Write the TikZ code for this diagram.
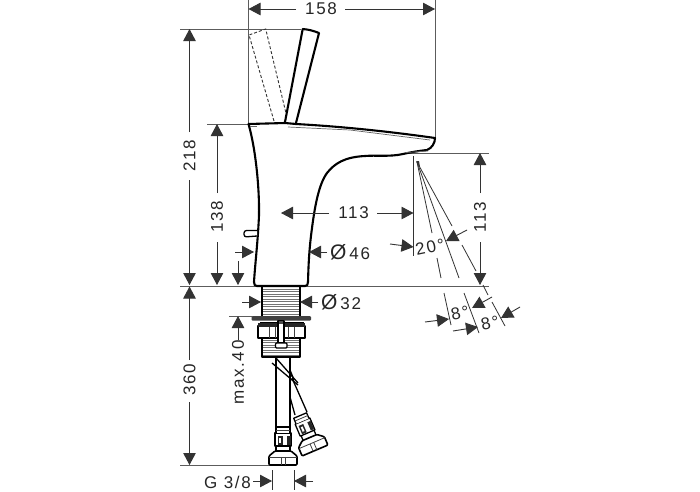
\documentclass[tikz,border=0pt]{standalone}
\usepackage{fontspec}
\setmainfont{Liberation Sans}
\newfontfamily\dimfont[LetterSpace=10]{Liberation Sans}
\usetikzlibrary{arrows.meta}
\definecolor{dimc}{HTML}{333333}
\tikzset{
  dimln/.style={draw=dimc,line width=0.9pt},
  arr/.style={dimln,-{Triangle[length=12pt,width=12.5pt]}},
  ext/.style={draw=dimc!80,line width=1pt},
  spray/.style={draw=dimc,line width=0.8pt},
  heavy/.style={draw=black,line width=2.1pt,line join=round,line cap=round},
  part/.style={draw=black,line width=1.3pt,line join=round},
  thin part/.style={draw=black!75,line width=0.8pt},
  lbl/.style={font=\dimfont\fontsize{17}{17}\selectfont,text=black!85,inner sep=0pt},
}
\newcommand{\connector}{%
  % origin: bottom centre of the nut
  \draw[part,line width=1.6pt,rounded corners=1pt,fill=white] (-14,0) -- (-14,-9) -- (-8,-14) -- (8,-14) -- (14,-9) -- (14,0) -- cycle;
  \draw[thin part] (-14,-8) -- (14,-8) (-2,-8) -- (-2,0) (2,-8) -- (2,0);
  \draw[part,fill=white] (-8,-19) rectangle (8,-32);
  \fill[black!85] (-5.5,-29) rectangle (-0.5,-20);
  \fill[black!85] (4,-29) rectangle (7.5,-20);
  \fill[white] (-4,-27) rectangle (-2,-22);
  \draw[part] (-7,-19) -- (-7,-14) (7,-19) -- (7,-14);
  \draw[part,fill=white] (-7,-32) -- (-7,-38) -- (7,-38) -- (7,-32);
  \draw[thin part] (-7,-35) -- (7,-35);
}
\begin{document}
\begin{tikzpicture}[x=1pt,y=-1pt]
\useasboundingbox[fill=white] (0,0) rectangle (700,491);
% --- extension lines
\draw[ext] (248.5,0) -- (248.5,124) (435,0) -- (435,138);
\draw[ext] (180,29) -- (301,29);
\draw[ext] (207,124) -- (248,124);
\draw[ext] (180,286) -- (489,286);
\draw[ext] (407,153) -- (489,153);
\draw[ext] (180,465) -- (270,465);
\draw[ext] (229,316) -- (252,316);
\draw[dimln] (281,203) -- (281,277);
\draw[dimln] (413.5,156) -- (413.5,256);
\draw[dimln] (272,470) -- (272,490) (294,470) -- (294,490);
% --- lever
\draw[dimc,line width=0.9pt,dash pattern=on 3pt off 2pt] (274,121) -- (249,35) -- (265.7,29) -- (285.7,112);
\draw[heavy] (285,122) -- (302.7,29) .. controls (309,29.5) and (314,31) .. (319,33) -- (296,123);
% --- body
\draw[heavy,fill=white] (248.5,124) -- (285,123) -- (296,124) .. controls (350,127) and (400,133) .. (435,138)
  .. controls (435,143) and (432,148) .. (427,150)
  .. controls (418,151) and (412,152) .. (403,154)
  .. controls (390,157) and (375,155) .. (365,156)
  .. controls (345,157) and (335,163) .. (327,173)
  .. controls (319,184) and (315,205) .. (312,228)
  .. controls (309,250) and (308.5,265) .. (308,282)
  .. controls (308,285) and (307,286) .. (305,286)
  -- (257,286) .. controls (255,286) and (254,285) .. (254,282)
  .. controls (255,265) and (258,240) .. (259,215)
  .. controls (259.5,190) and (256,150) .. (248.5,124);
\draw[draw=black!60,line width=0.7pt] (288,127) -- (350,130) -- (430,140);
\draw[draw=black!60,line width=0.7pt] (250,126.5) -- (257,126.5);
\draw[draw=black!60,line width=0.7pt] (406,152.5) -- (428,151);
\draw[part,rounded corners=2.5pt,fill=white] (257,230.5) -- (244,230.5) -- (244,237) -- (257,236);
% --- base: threaded shank
\foreach \yy in {289,291.5,...,314} \draw[draw=black!55,line width=0.7pt] (262,\yy) -- (300,\yy);
\draw[part] (262,287) -- (262,316) (300,287) -- (300,316);
\fill[black!75,rounded corners=1pt] (251.5,316) rectangle (311,320.5);
% --- nut
\draw[part] (260,323) -- (304,323);
\draw[part,line width=1.5pt] (258,326) rectangle (305,338);
\fill[black!85] (258,323) rectangle (305,327);
\draw[thin part] (269,327) -- (269,338) (275,327) -- (275,338) (288,327) -- (288,338) (294,327) -- (294,338);
\foreach \yy in {340,342.5,...,355} \draw[draw=black!55,line width=0.7pt] (262,\yy) -- (300,\yy);
\draw[part] (262,338) -- (262,357) -- (300,357) -- (300,338);
% --- bolt
\draw[part,fill=white] (278,321) rectangle (284,343);
\draw[part,fill=white,rounded corners=1pt] (275.5,343) rectangle (287,348);
\fill[black!70] (279,321) rectangle (283,324);
% --- diagonal hose with connector
\draw[part] (290,370) -- (294,380) (292,378) -- (307,412);
\draw[part] (290,397) -- (295,415);
\begin{scope}[shift={(315,450.5)},rotate=23]
  \connector
\end{scope}
% --- vertical hose with connector
\draw[part,line width=1.5pt] (276,358) -- (276,427) (290,358) -- (290,427);
\draw[part] (272,363) -- (298,385);
\draw[part] (276,358) -- (298,383);
\begin{scope}[shift={(283,465)}]
  \connector
\end{scope}
% --- dimensions
\node[lbl] (t158) at (321,9) {158};
\draw[arr] (296,9) -- (248.5,9);
\draw[arr] (345,9) -- (435,9);
\node[lbl,rotate=90] (t218) at (189.5,156) {218};
\draw[arr] (189.5,132) -- (189.5,29);
\draw[arr] (189.5,180) -- (189.5,285);
\node[lbl,rotate=90] (t138) at (217,217) {138};
\draw[arr] (217,193) -- (217,124);
\draw[arr] (217,242) -- (217,285);
\draw[arr] (238,261) -- (238,285);
\draw[arr] (235,252) -- (254,252);
\node[lbl] (t113a) at (353.5,213) {113};
\draw[arr] (329,213) -- (281,213);
\draw[arr] (377,213) -- (413.5,213);
\node[lbl,rotate=90] (t113b) at (480,217) {113};
\draw[arr] (480,193) -- (480,153);
\draw[arr] (480,242) -- (480,285);
\draw[arr] (327,252) -- (309,252);
\node[lbl,anchor=west] (t46) at (330,252) {{\fontsize{21}{21}\selectfont Ø}\,46};
\draw[arr] (318,302) -- (300,302);
\draw[arr] (242,302) -- (261,302);
\node[lbl,anchor=west] (t32) at (321,302) {{\fontsize{21}{21}\selectfont Ø}\,32};
\node[lbl,rotate=90] (tmax) at (238,372.5) {max.40};
\draw[arr] (238,340) -- (238,316);
\node[lbl,rotate=90] (t360) at (189.5,380) {360};
\draw[arr] (189.5,360) -- (189.5,286.5);
\draw[arr] (189.5,402) -- (189.5,465);
\node[lbl,anchor=east] (tg) at (251,482) {G 3/8};
\draw[arr] (253,481) -- (272,481);
\draw[arr] (313,481) -- (294,481);
% --- spray
\draw[spray] (417,162) -- (432,233) (437,258) -- (441,278) (444,293) -- (451,325);
\draw[spray] (417,162) -- (459,278) (464,293) -- (479,333);
\draw[spray] (417,162) -- (452,226) (462,245) -- (476,271) (483,285) -- (488,295) (492,302) -- (505,326);
\fill[dimc] (416,161) -- (419,161) -- (420,167) -- cycle;
\draw[arr] (390,244) -- (413.5,247);
\draw[arr] (467,230) -- (446,241);
\node[lbl,rotate=12] (t20) at (430,247) {20°};
\draw[arr] (425,322) -- (449,319);
\node[lbl,rotate=12] (t8a) at (460,313) {8°};
\draw[arr] (492,297) -- (472,308);
\draw[arr] (453,331) -- (478,327);
\node[lbl,rotate=12] (t8b) at (490,323) {8°};
\draw[arr] (520,307) -- (501,318);
\end{tikzpicture}
\end{document}
